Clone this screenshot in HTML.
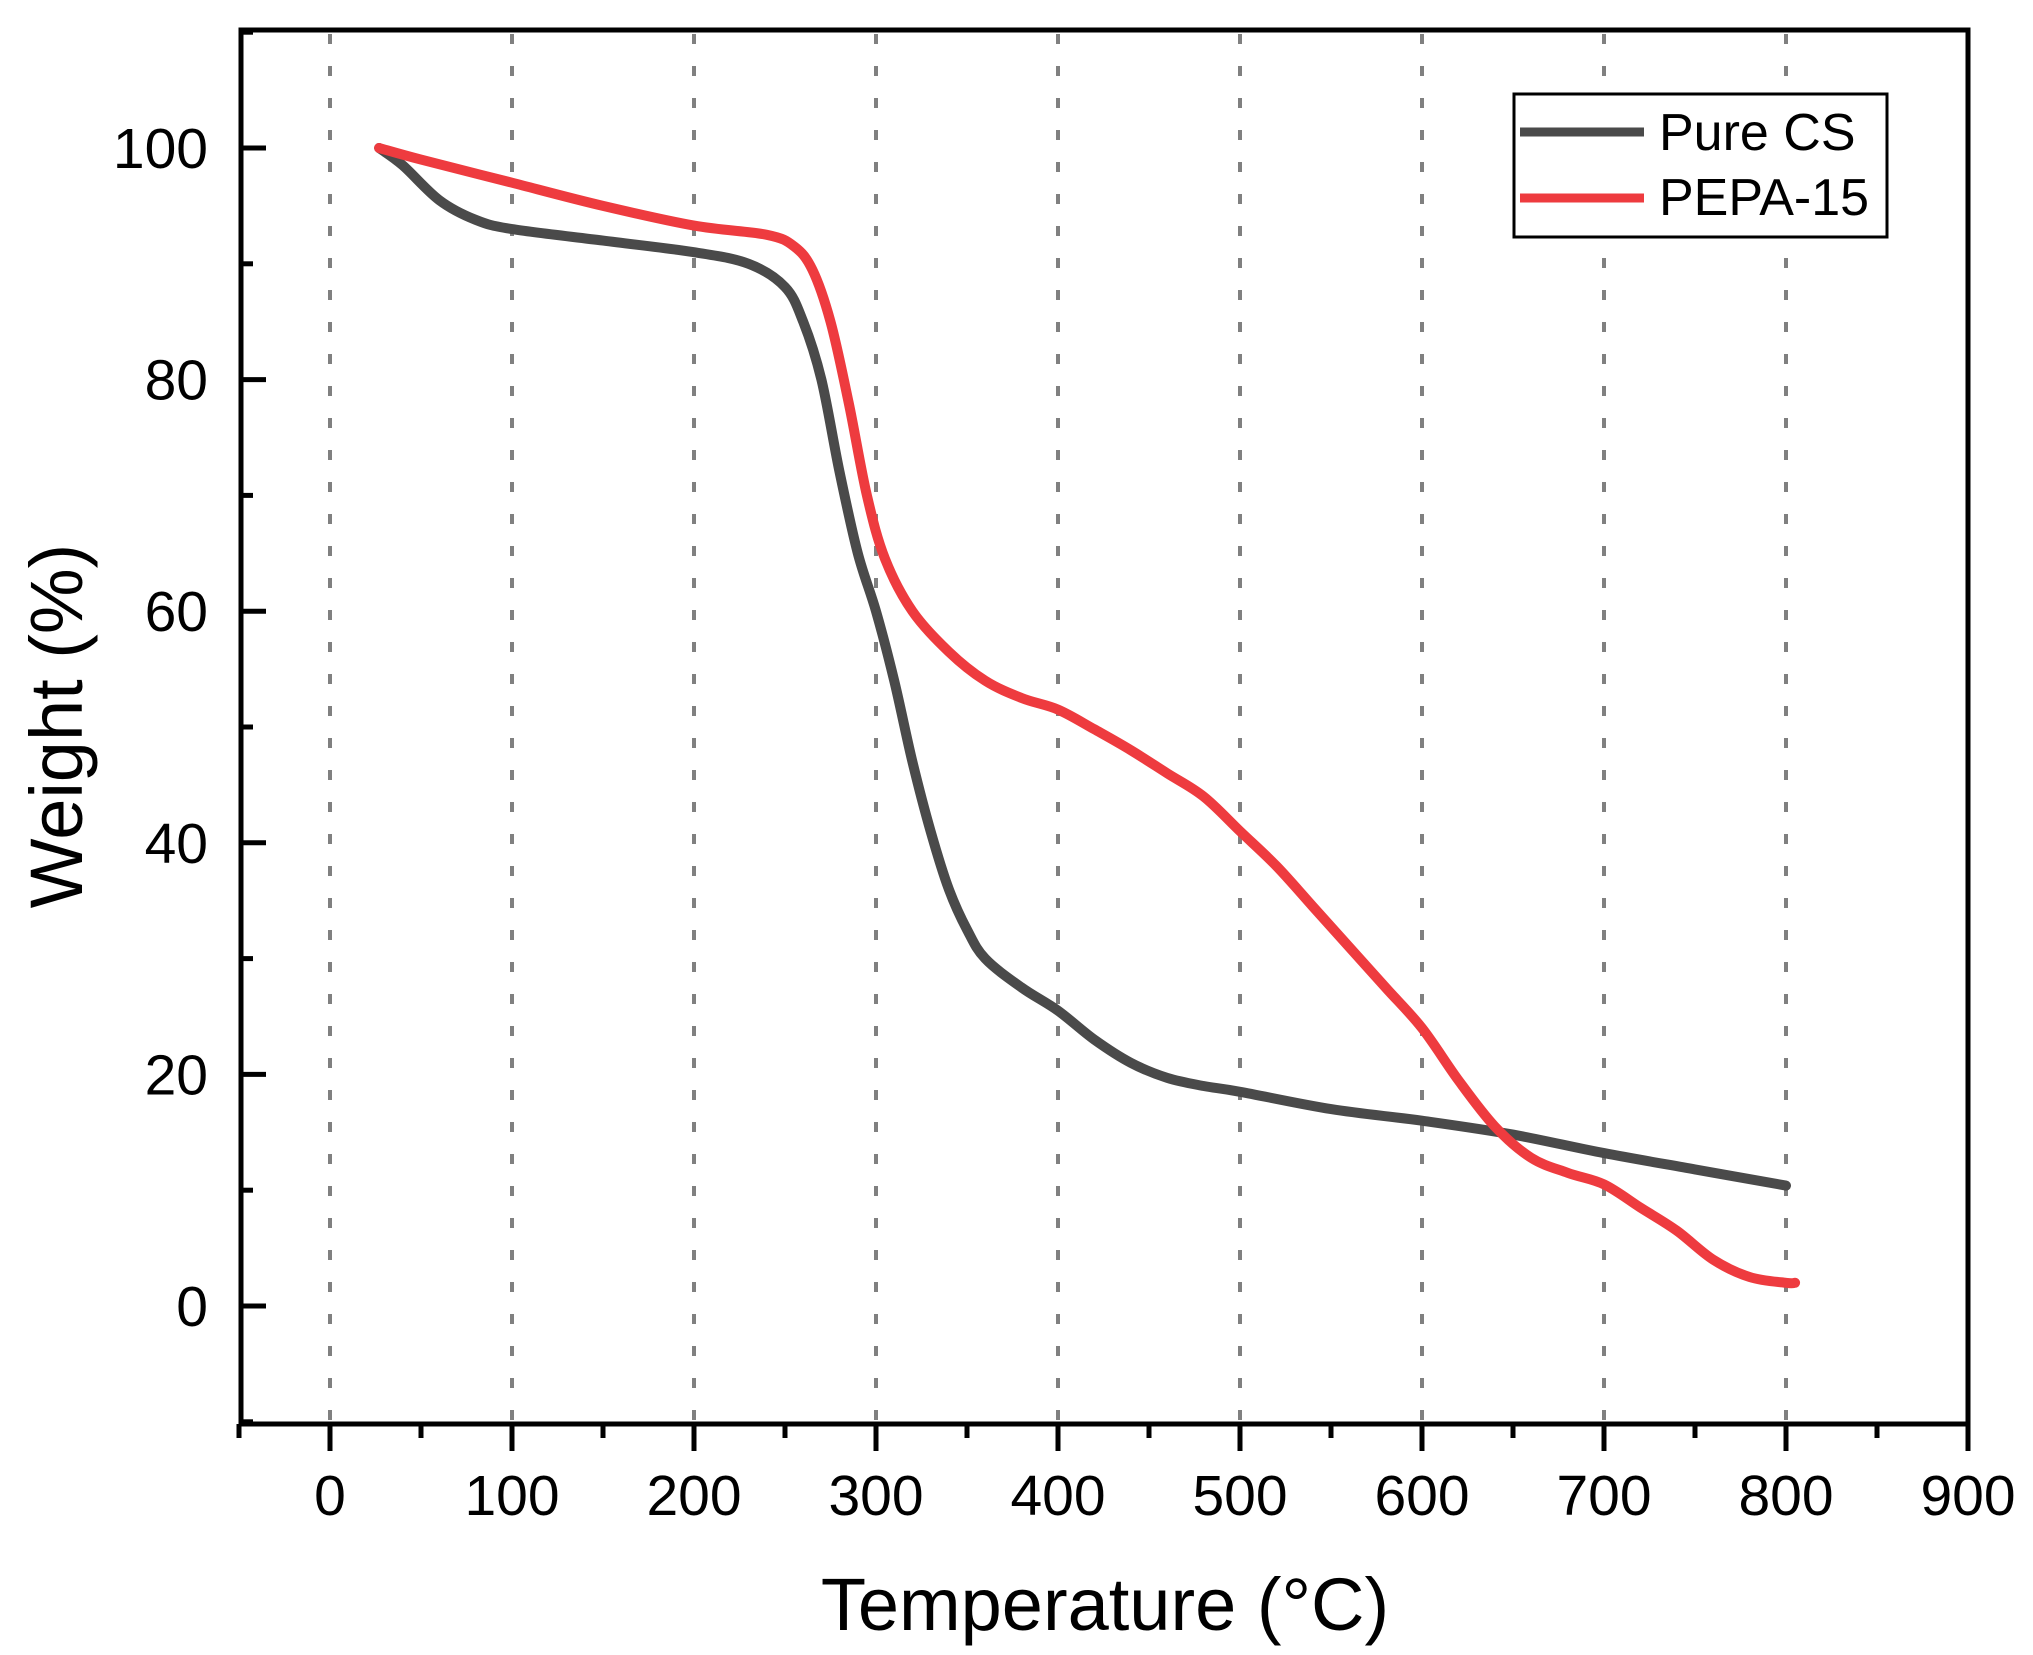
<!DOCTYPE html>
<html><head><meta charset="utf-8"><style>
html,body{margin:0;padding:0;background:#fff}
svg{display:block}
text{font-family:"Liberation Sans",Arial,sans-serif;fill:#000}
</style></head><body>
<svg id="s" width="2033" height="1655" viewBox="0 0 2033 1655" xmlns="http://www.w3.org/2000/svg">
<g id="grid" stroke="#808080" stroke-width="4" stroke-dasharray="10,22"></g>
<g id="curves" fill="none" stroke-width="10" stroke-linejoin="round" stroke-linecap="round"></g>
<rect x="241" y="30" width="1727" height="1394" fill="none" stroke="#000" stroke-width="5"/>
<g id="ticks" stroke="#000" stroke-width="5"></g>
<g id="labels" font-size="57"></g>
<text x="1105" y="1630" font-size="74" text-anchor="middle">Temperature (°C)</text>
<text transform="translate(82,726) rotate(-90)" font-size="74" text-anchor="middle">Weight (%)</text>
<rect x="1514" y="94" width="373" height="143" fill="#fff" stroke="#000" stroke-width="3"/>
<line x1="1520" y1="132" x2="1644" y2="132" stroke="#4a4a4a" stroke-width="9"/>
<line x1="1520" y1="198" x2="1644" y2="198" stroke="#ee3b3f" stroke-width="9"/>
<text x="1659" y="150" font-size="52">Pure CS</text>
<text x="1659" y="215" font-size="52">PEPA-15</text>
</svg>
<script>
var NS="http://www.w3.org/2000/svg";
function X(t){return 330+1.82*t}
function Y(v){return 1306-11.58*v}
function el(p,tag,a,txt){var e=document.createElementNS(NS,tag);for(var k in a)e.setAttribute(k,a[k]);if(txt!=null)e.textContent=txt;document.getElementById(p).appendChild(e);}
for(var t=0;t<=800;t+=100)el("grid","line",{x1:X(t),y1:34,x2:X(t),y2:1420});
for(var t=-50;t<=900;t+=50){var m=t%100==0;el("ticks","line",{x1:X(t),y1:1424,x2:X(t),y2:1424+(m?27:14)});if(m)el("labels","text",{x:X(t),y:1515,"text-anchor":"middle"},t);}
for(var v=-10;v<=110;v+=10){var m=v%20==0;el("ticks","line",{x1:241,y1:Y(v),x2:241+(m?25:12),y2:Y(v)});if(m)el("labels","text",{x:208,y:Y(v)+20,"text-anchor":"end"},v);}
var cs=[[27,100],[40,98.5],[60,95.5],[80,93.8],[100,93],[150,92],[200,91],[230,90],[250,88],[260,85],[270,80],[280,72],[290,65],[300,60],[310,54],[320,47],[330,41],[340,36],[350,32.5],[360,30],[380,27.5],[400,25.5],[420,23],[440,21],[460,19.7],[480,19],[500,18.5],[550,17],[600,16],[650,14.8],[700,13.2],[750,11.8],[800,10.4]];
var pe=[[27,100],[50,99],[100,97],[150,95],[200,93.3],[240,92.5],[255,91.5],[265,89.5],[275,85],[285,78],[295,70],[305,64.5],[320,60],[340,56.5],[360,54],[380,52.5],[400,51.5],[420,49.8],[440,48],[460,46],[480,44],[500,41],[520,38],[540,34.5],[560,31],[580,27.5],[600,24],[620,19.5],[640,15.5],[660,12.8],[680,11.5],[700,10.5],[720,8.5],[740,6.5],[760,4],[780,2.5],[800,2],[805,2]];
function d(a){var P=a.map(function(p){return [X(p[0]),Y(p[1])]});var s="M"+P[0][0].toFixed(1)+","+P[0][1].toFixed(1);
for(var i=0;i<P.length-1;i++){var p0=P[i-1]||P[i],p1=P[i],p2=P[i+1],p3=P[i+2]||p2;
var c1=[p1[0]+(p2[0]-p0[0])/6,p1[1]+(p2[1]-p0[1])/6],c2=[p2[0]-(p3[0]-p1[0])/6,p2[1]-(p3[1]-p1[1])/6];
s+="C"+c1[0].toFixed(1)+","+c1[1].toFixed(1)+" "+c2[0].toFixed(1)+","+c2[1].toFixed(1)+" "+p2[0].toFixed(1)+","+p2[1].toFixed(1);}
return s;}
el("curves","path",{d:d(cs),stroke:"#4a4a4a"});
el("curves","path",{d:d(pe),stroke:"#ee3b3f"});
</script>
</body></html>
